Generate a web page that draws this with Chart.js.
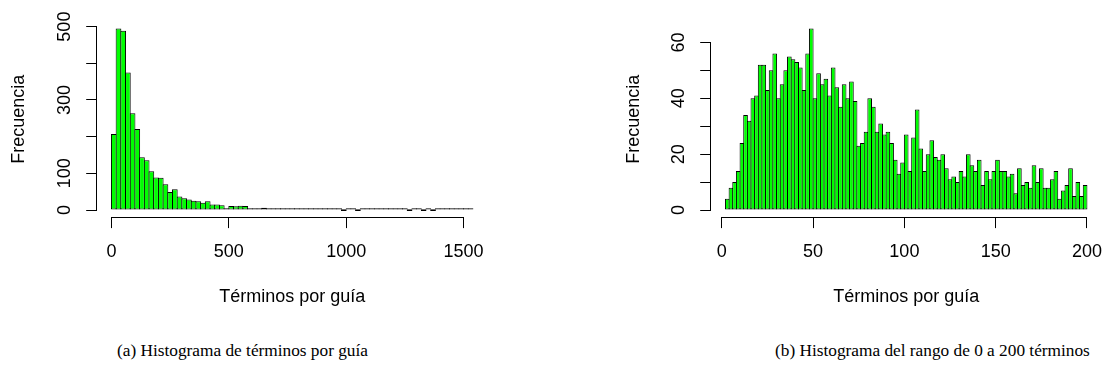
<!DOCTYPE html>
<html><head><meta charset="utf-8">
<script src="https://cdn.jsdelivr.net/npm/chart.js@4.4.0/dist/chart.umd.min.js"></script>
<style>
html,body{margin:0;padding:0;background:#fff;width:1104px;height:372px;overflow:hidden;}
#wrap{position:relative;width:1104px;height:372px;overflow:hidden;}
canvas{position:absolute;top:0;}
.cap{position:absolute;top:341px;font-family:"Liberation Serif","Times New Roman",serif;font-size:17.3px;line-height:20px;color:#000;white-space:nowrap;}
</style></head><body>
<div id="wrap">
<canvas id="c1" width="552" height="320" style="left:0;width:552px;height:320px"></canvas>
<canvas id="c2" width="552" height="320" style="left:552px;width:552px;height:320px"></canvas>
<div class="cap" id="capA" style="left:117px"></div>
<div class="cap" id="capB" style="left:775px"></div>
</div>
<script>
// ---- data ----
const leftCounts = [207,495,489,375,264,221,144,136,106,89,88,70,49,57,37,32,29,25,24,20,24,15,15,13,5,11,10,12,11,4,3,2,6,4,3,3,3,2,3,2,1,1,3,2,2,1,2,1,1,0,1,1,0,1,1,2,1,5,2,1,2,2,1,0,3,1,0,1,0,1,2,1,2,2,2,1,1];
const leftBreakStart = 0;
const leftBinWidth = 20;
const leftXTicks = [0,500,1000,1500];
const leftYTicks = [0,100,200,300,400,500];
const leftYTickLabels = ['0','100','','300','','500'];

const rightCounts = [4,8,10,14,24,34,32,40,41,52,52,43,50,56,40,45,50,55,54,53,51,43,56,65,40,49,45,47,41,51,44,37,45,40,46,39,23,24,28,40,37,28,31,27,28,24,18,13,17,27,14,26,36,22,14,20,25,19,18,20,15,11,12,10,14,12,20,16,14,18,9,14,11,14,18,14,14,12,13,6,15,9,10,8,16,10,15,8,8,11,14,4,7,9,15,5,10,5,9];
const rightBreakStart = 2;
const rightBinWidth = 2;
const rightXTicks = [0,50,100,150,200];
const rightYTicks = [0,10,20,30,40,50,60];
const rightYTickLabels = ['0','','20','','40','','60'];

const xTitle = 'Términos por guía';
const yTitle = 'Frecuencia';
const captionA = '(a) Histograma de términos por guía';
const captionB = '(b) Histograma del rango de 0 a 200 términos';

document.getElementById('capA').textContent = captionA;
document.getElementById('capB').textContent = captionB;

Chart.defaults.font.family = '"Liberation Sans", Arial, Helvetica, sans-serif';
Chart.defaults.font.size = 18;
Chart.defaults.color = '#000';

const axisLinePlugin = {
  id: 'rAxisLines',
  afterDraw(chart) {
    const ctx = chart.ctx;
    const xs = chart.scales.x, ys = chart.scales.y;
    const xt = xs.ticks, yt = ys.ticks;
    ctx.save();
    ctx.strokeStyle = '#000';
    ctx.lineWidth = 1;
    ctx.beginPath();
    const yLine = Math.round(xs.top) + 0.5;
    ctx.moveTo(Math.round(xs.getPixelForValue(xt[0].value) - 0.5), yLine);
    ctx.lineTo(Math.round(xs.getPixelForValue(xt[xt.length - 1].value) - 0.5) + 1, yLine);
    const xLine = Math.round(ys.right) - 0.5;
    ctx.moveTo(xLine, Math.round(ys.getPixelForValue(yt[0].value) - 0.5) + 1);
    ctx.lineTo(xLine, Math.round(ys.getPixelForValue(yt[yt.length - 1].value) - 0.5));
    ctx.stroke();
    ctx.restore();
  }
};

function makeHist(id, counts, start, width, xTicks, yTicks, yLabels, g) {
  const pts = counts.map((c, i) => ({x: start + width * (i + 0.5), y: c}));
  const xlo = start, xhi = start + width * counts.length;
  const xr = xhi - xlo;
  const ymax = Math.max(...counts);
  const H = 320, W = 552;
  const binPx = width * (g.areaRight - g.areaLeft) / (xr * 1.08);
  return new Chart(document.getElementById(id), {
    type: 'bar',
    data: {datasets: [{
      data: pts,
      backgroundColor: '#00ff00',
      borderColor: '#000000',
      borderWidth: 1,
      borderSkipped: false,
      inflateAmount: 0,
      minBarLength: 1.8,
      barThickness: binPx + 1
    }]},
    options: {
      responsive: false,
      animation: false,
      devicePixelRatio: 1,
      events: [],
      layout: {padding: {left: g.padLeft, right: W - g.areaRight, top: g.areaTop, bottom: 0}},
      plugins: {legend: {display: false}, tooltip: {enabled: false}},
      scales: {
        x: {
          type: 'linear',
          offset: false,
          min: xlo - 0.04 * xr,
          max: xhi + 0.04 * xr,
          afterBuildTicks: s => { s.ticks = xTicks.map(v => ({value: v})); },
          afterFit: s => { s.height = H - g.areaBottom; s.paddingLeft = 0; s.paddingRight = 0; },
          grid: {display: true, offset: false, drawOnChartArea: false, drawTicks: true, tickLength: 10.8, color: '#000', lineWidth: 1},
          border: {display: false},
          ticks: {autoSkip: false, maxRotation: 0, minRotation: 0, padding: 13, color: '#000',
                  callback: v => String(v)},
          title: {display: true, text: xTitle, color: '#000', font: {size: 18}, padding: {top: 0, bottom: 12.2}}
        },
        y: {
          type: 'linear',
          offset: false,
          min: -0.04 * ymax,
          max: 1.04 * ymax,
          afterBuildTicks: s => { s.ticks = yTicks.map(v => ({value: v})); },
          afterFit: s => { s.width = g.areaLeft - g.padLeft; s.paddingTop = 0; s.paddingBottom = 0; },
          grid: {display: true, offset: false, drawOnChartArea: false, drawTicks: true, tickLength: 10.8, color: '#000', lineWidth: 1},
          border: {display: false},
          ticks: {autoSkip: false, minRotation: 90, maxRotation: 90, crossAlign: 'center', padding: g.yLabPad, color: '#000',
                  callback: (v, i) => yLabels[i]},
          title: {display: true, text: yTitle, color: '#000', font: {size: 18}, padding: {top: 8.7, bottom: 0}}
        }
      }
    },
    plugins: [axisLinePlugin]
  });
}

makeHist('c1', leftCounts, leftBreakStart, leftBinWidth, leftXTicks, leftYTicks, leftYTickLabels,
  {padLeft: 0, areaLeft: 97, areaRight: 487.4, areaTop: 21.2, areaBottom: 217.3, yLabPad: 6.2});
makeHist('c2', rightCounts, rightBreakStart, rightBinWidth, rightXTicks, rightYTicks, rightYTickLabels,
  {padLeft: 63, areaLeft: 159, areaRight: 549.4, areaTop: 21.2, areaBottom: 217.3, yLabPad: 11.2});
</script>
</body></html>
